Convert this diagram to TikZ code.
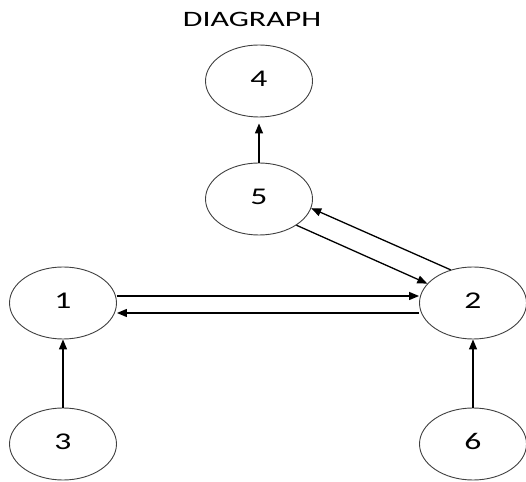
\documentclass[tikz,border=0pt]{standalone}
\usepackage{fontspec}
\setmainfont{Carlito}
\usetikzlibrary{shapes.geometric,arrows.meta}
\begin{document}
\begin{tikzpicture}[x=1pt,y=1pt,
  vertex/.style={ellipse,draw=black!75,line width=0.9pt,minimum width=107pt,minimum height=72pt,inner sep=0pt,
    font=\fontsize{24}{24}\selectfont},
  edge/.style={line width=1.3pt,-{Triangle[length=10pt,width=8pt]}}]
\useasboundingbox (0,0) rectangle (526,481);
\newcommand{\lbl}[1]{\raisebox{5pt}{\scalebox{1.4}[1]{#1}}}
\node[font=\fontsize{22}{22}\selectfont] (title) at (252,462) {\scalebox{1.45}[1]{DIAGRAPH}};
\node[vertex] (n4) at (259,400) {\lbl{4}};
\node[vertex] (n5) at (259,282) {\lbl{5}};
\node[vertex] (n1) at (63,178) {\lbl{1}};
\node[vertex] (n2) at (473,178) {\lbl{2}};
\node[vertex] (n3) at (63,37) {\lbl{3}};
\node[vertex] (n6) at (473,37) {\lbl{6}};
\draw[edge,shorten >=6pt] (n5.north) -- (n4.south);
\draw[edge] (n3.north) -- (n1.south);
\draw[edge] (n6.north) -- (n2.south);
\draw[edge] ([yshift=7pt]n1.east) -- ([yshift=7pt]n2.west);
\draw[edge] ([yshift=-10pt]n2.west) -- ([yshift=-10pt]n1.east);
\draw[edge] (n5.-35) -- (n2.157);
\draw[edge] (n2.124) -- (n5.-10);
\end{tikzpicture}
\end{document}
